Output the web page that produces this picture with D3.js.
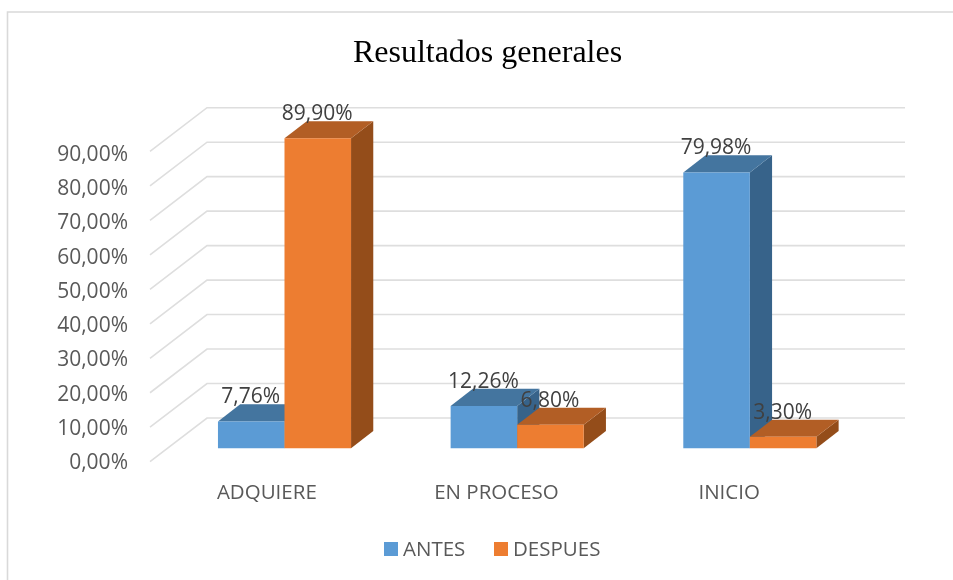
<!DOCTYPE html>
<html>
<head>
<meta charset="utf-8">
<script src="https://cdnjs.cloudflare.com/ajax/libs/d3/7.8.5/d3.min.js"></script>
<style>
	body { margin: 0; background: #fff; }
	svg { display: block; filter: blur(0.4px); }
	text { font-family: "Open Sans", sans-serif; }
	.domain { display: none; }
</style>
</head>
<body>
<div id="plothere"></div>
<script>
var categories = ["ADQUIERE", "EN PROCESO", "INICIO"];
var seriesNames = ["ANTES", "DESPUES"];
var antes = [7.76, 12.26, 79.98];
var despues = [89.90, 6.80, 3.30];
var yTicks = [0, 10, 20, 30, 40, 50, 60, 70, 80, 90];

var colors = {
	ANTES: { front: "#5b9bd5", top: "#44759f", side: "#37638a" },
	DESPUES: { front: "#ed7d31", top: "#b25e25", side: "#944d1a" }
};
var values = { ANTES: antes, DESPUES: despues };

var svg = d3.select("#plothere")
	.append("svg")
	.attr("width", 953)
	.attr("height", 580);

// chart frame, only top and left show in the picture
svg.append("path")
	.attr("d", "M7.5,580V12H953")
	.attr("fill", "none")
	.attr("stroke", "#d9d9d9")
	.attr("stroke-width", 1.6);

var xs = d3.scaleBand().domain(categories).range([150.5, 848.5]).paddingInner(0.428).paddingOuter(0.214);
var xs1 = d3.scaleBand().domain(seriesNames).range([0, xs.bandwidth()]);
var ys = d3.scaleLinear().domain([0, 90]).range([461.7, 151.4]);
// tick labels are spaced a touch wider than the gridlines
var ysLabels = ys.copy().range([461.2, 152.8]);

// floor depth of the fake 3D box
var depthX = 57, depthY = 43.7;
function project(x, v, z) {
	return [x + depthX * z, ys(v) - depthY * z];
}
var line = d3.line();

var comma = d3.formatLocale({ decimal: ",", thousands: ".", grouping: [3], currency: ["", ""] }).format(".2f");
function pct(v) { return comma(v) + "%"; }

// gridlines, side wall then back wall
svg.append("g").selectAll("path").data(yTicks).join("path")
	.attr("d", function(t) {
		return line([project(150, t, 0), project(150, t, 1), project(848, t, 1)]);
	})
	.attr("fill", "none")
	.attr("stroke", "#dedede")
	.attr("stroke-width", 1.6);

var yAxis = svg.append("g")
	.attr("transform", "translate(150,0)")
	.call(d3.axisLeft(ysLabels).tickValues(yTicks).tickFormat(pct).tickSize(0).tickPadding(22));
yAxis.selectAll("text").attr("font-size", 21).attr("fill", "#595959").attr("dy", "0.36em");

var xAxis = svg.append("g")
	.attr("transform", "translate(0,484)")
	.call(d3.axisBottom(xs).tickSize(0).tickPadding(0));
// labels sit a little left of the band centre in the second and third group
var labelNudge = [0, -3, -3];
xAxis.selectAll("text")
	.attr("font-size", 20.5)
	.attr("fill", "#595959")
	.attr("dx", function(d, i) { return labelNudge[i]; });

// bars
var zFront = 0.31, zBack = 0.7;
seriesNames.forEach(function(name) {
	var g = svg.append("g");
	values[name].forEach(function(v, i) {
		var x0 = xs(categories[i]) + xs1(name);
		var x1 = x0 + xs1.bandwidth();
		g.append("path")
			.attr("d", line([project(x1, 0, zFront), project(x1, 0, zBack), project(x1, v, zBack), project(x1, v, zFront)]) + "Z")
			.attr("fill", colors[name].side);
		g.append("path")
			.attr("d", line([project(x0, v, zFront), project(x0, v, zBack), project(x1, v, zBack), project(x1, v, zFront)]) + "Z")
			.attr("fill", colors[name].top);
		g.append("path")
			.attr("d", line([project(x0, 0, zFront), project(x1, 0, zFront), project(x1, v, zFront), project(x0, v, zFront)]) + "Z")
			.attr("fill", colors[name].front);
	});
});

// value labels on top of everything
seriesNames.forEach(function(name) {
	values[name].forEach(function(v, i) {
		var x0 = xs(categories[i]) + xs1(name);
		var p = project(x0 + xs1.bandwidth() / 2, v, zFront);
		svg.append("text")
			.attr("x", p[0] - 0.5)
			.attr("y", p[1] - 18)
			.attr("text-anchor", "middle")
			.attr("font-size", 21)
			.attr("fill", "#404040")
			.text(pct(v));
	});
});

svg.append("text")
	.attr("x", 487.5)
	.attr("y", 62)
	.attr("text-anchor", "middle")
	.attr("font-size", 32)
	.style("font-family", "'Liberation Serif', serif")
	.attr("fill", "#000")
	.text("Resultados generales");

// legend
var legendX = [384, 494];
seriesNames.forEach(function(name, i) {
	svg.append("rect")
		.attr("x", legendX[i])
		.attr("y", 542)
		.attr("width", 14)
		.attr("height", 14)
		.attr("fill", colors[name].front);
	svg.append("text")
		.attr("x", legendX[i] + 19)
		.attr("y", 556)
		.attr("font-size", 20.5)
		.attr("fill", "#595959")
		.text(name);
});
</script>
</body>
</html>
